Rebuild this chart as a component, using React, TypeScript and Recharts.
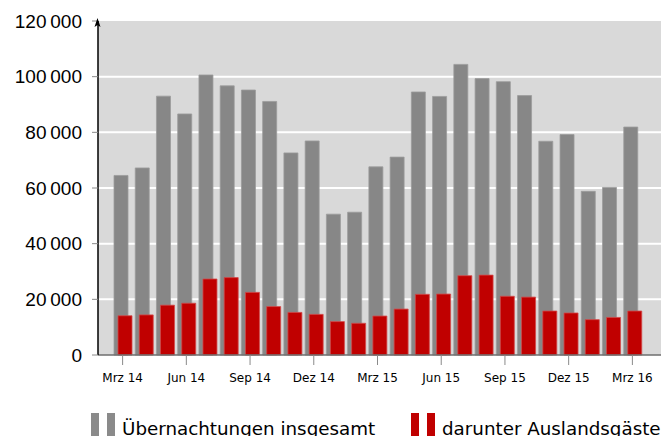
import { BarChart, Bar, XAxis, YAxis, CartesianGrid } from 'recharts';

const months = [
  'Mrz 14', 'Apr 14', 'Mai 14', 'Jun 14', 'Jul 14', 'Aug 14', 'Sep 14', 'Okt 14', 'Nov 14', 'Dez 14',
  'Jan 15', 'Feb 15', 'Mrz 15', 'Apr 15', 'Mai 15', 'Jun 15', 'Jul 15', 'Aug 15', 'Sep 15', 'Okt 15',
  'Nov 15', 'Dez 15', 'Jan 16', 'Feb 16', 'Mrz 16'
];

const totalStays = [
  64500, 67200, 93000, 86600, 100600, 96700, 95200, 91100, 72600, 76900,
  50600, 51300, 67600, 71100, 94500, 92900, 104400, 99300, 98200, 93200,
  76800, 79200, 58800, 60200, 81900
];

const foreignGuests = [
  14100, 14400, 17900, 18600, 27300, 27800, 22500, 17400, 15300, 14600,
  12000, 11400, 14000, 16500, 21800, 21900, 28500, 28700, 21100, 20800,
  15800, 15100, 12700, 13500, 15800
];

const yTicks = [0, 20000, 40000, 60000, 80000, 100000, 120000];
const gridValues = [20000, 40000, 60000, 80000, 100000];

const seriesNames = ['Übernachtungen insgesamt', 'darunter Auslandsgäste'];

const GRAY = '#878787';
const RED = '#c00000';

const chartData = months.map((m, i) => ({
  month: m,
  total: totalStays[i],
  foreign: foreignGuests[i]
}));

// 120000 -> "120 000" with a thin space
const formatThousands = (v: number) => {
  if (v === 0) return '0';
  const s = String(v);
  return s.slice(0, s.length - 3) + '\u2009' + s.slice(-3);
};

const LegendItem = ({ color, label, left }: { color: string; label: string; left: number }) => (
  <div style={{ position: 'absolute', left, top: 413, height: 23, display: 'flex', alignItems: 'flex-start' }}>
    <div style={{ width: 8, height: 23, background: color, marginRight: 8 }} />
    <div style={{ width: 8, height: 23, background: color, marginRight: 7 }} />
    <span
      style={{
        fontFamily: '"DejaVu Sans", sans-serif',
        fontSize: 18.3,
        lineHeight: '18px',
        color: '#000',
        marginTop: 7,
        whiteSpace: 'nowrap'
      }}
    >
      {label}
    </span>
  </div>
);

export default function App() {
  return (
    <div style={{ position: 'absolute', left: 0, top: 0, width: 661, height: 436, overflow: 'hidden', background: '#fff' }}>
      <BarChart
        width={661}
        height={436}
        data={chartData}
        margin={{ top: 21, right: 0, left: 0, bottom: 51 }}
        barSize={14}
        barGap={-10}
      >
        <CartesianGrid
          fill="#d9d9d9"
          stroke="#ffffff"
          strokeWidth={2}
          vertical={false}
          horizontalValues={gridValues}
        />
        <XAxis
          dataKey="month"
          interval={2}
          padding={{ left: 14, right: 18 }}
          height={30}
          tickSize={10}
          tickMargin={8}
          axisLine={{ stroke: '#6e6e6e', strokeWidth: 1.5 }}
          tickLine={{ stroke: '#8a8a8a' }}
          tick={{ fill: '#000', fontSize: 12, fontFamily: '"DejaVu Sans", sans-serif' }}
        />
        <YAxis
          width={98}
          domain={[0, 120000]}
          ticks={yTicks}
          tickFormatter={formatThousands}
          tickSize={6}
          tickMargin={10}
          axisLine={{ stroke: '#000', strokeWidth: 1.5 }}
          tickLine={{ stroke: '#8a8a8a' }}
          tick={{ fill: '#000', fontSize: 19, fontFamily: '"Liberation Sans", Arial, sans-serif' }}
        />
        <Bar dataKey="total" name={seriesNames[0]} fill={GRAY} stroke="#9c9c9c" strokeWidth={0.8} isAnimationActive={false} />
        <Bar dataKey="foreign" name={seriesNames[1]} fill={RED} stroke="#d24a4a" strokeWidth={0.8} isAnimationActive={false} />
      </BarChart>
      <svg width={661} height={436} style={{ position: 'absolute', left: 0, top: 0, pointerEvents: 'none' }}>
        <path d="M97.5,18 L94.5,27 L97.5,25 L100.5,27 Z" fill="#000" />
      </svg>
      <LegendItem color="#8a8a8a" label={seriesNames[0]} left={91} />
      <LegendItem color={RED} label={seriesNames[1]} left={411} />
    </div>
  );
}
